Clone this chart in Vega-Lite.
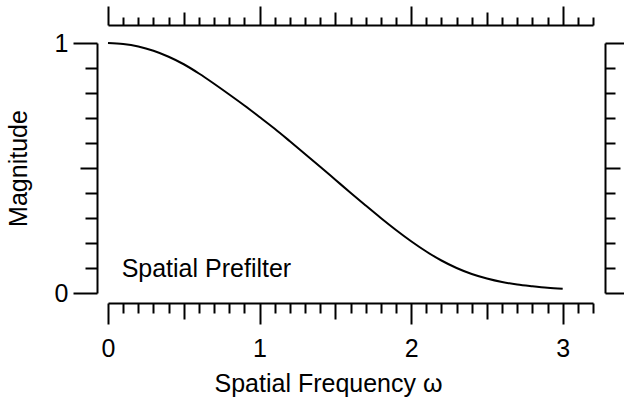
{
  "$schema": "https://vega.github.io/schema/vega-lite/v6.json",
  "width": 485,
  "height": 250,
  "autosize": "none",
  "padding": {"left": 108, "top": 43, "right": 31, "bottom": 115},
  "background": "white",
  "config": {"view": {"stroke": null}, "font": "Liberation Sans"},
  "layer": [
    {
      "data": {"values": [
        {"x": 0.0, "y": 1.0}, {"x": 0.1, "y": 0.996}, {"x": 0.2, "y": 0.986}, {"x": 0.3, "y": 0.969},
        {"x": 0.4, "y": 0.945}, {"x": 0.5, "y": 0.915}, {"x": 0.6, "y": 0.878}, {"x": 0.7, "y": 0.837},
        {"x": 0.8, "y": 0.794}, {"x": 0.9, "y": 0.75}, {"x": 1.0, "y": 0.704}, {"x": 1.1, "y": 0.657},
        {"x": 1.2, "y": 0.607}, {"x": 1.3, "y": 0.556}, {"x": 1.4, "y": 0.505}, {"x": 1.5, "y": 0.453},
        {"x": 1.6, "y": 0.401}, {"x": 1.7, "y": 0.35}, {"x": 1.8, "y": 0.3}, {"x": 1.9, "y": 0.252},
        {"x": 2.0, "y": 0.207}, {"x": 2.1, "y": 0.166}, {"x": 2.2, "y": 0.13}, {"x": 2.3, "y": 0.1},
        {"x": 2.4, "y": 0.076}, {"x": 2.5, "y": 0.058}, {"x": 2.6, "y": 0.044}, {"x": 2.7, "y": 0.034},
        {"x": 2.8, "y": 0.027}, {"x": 2.9, "y": 0.021}, {"x": 3.0, "y": 0.017}
      ]},
      "mark": {"type": "line", "color": "black", "strokeWidth": 2, "interpolate": "monotone"},
      "encoding": {
        "x": {
          "field": "x", "type": "quantitative",
          "scale": {"domain": [0, 3.2], "nice": false, "zero": false},
          "axis": {
            "orient": "bottom", "offset": 10, "grid": false,
            "values": [0,0.1,0.2,0.3,0.4,0.5,0.6,0.7,0.8,0.9,1,1.1,1.2,1.3,1.4,1.5,1.6,1.7,1.8,1.9,2,2.1,2.2,2.3,2.4,2.5,2.6,2.7,2.8,2.9,3,3.1,3.2],
            "domainColor": "black", "domainWidth": 2, "tickColor": "black", "tickWidth": 2,
            "tickSize": {"condition": [
              {"test": "abs(datum.value-round(datum.value))<0.001", "value": 21},
              {"test": "abs(datum.value*2-round(datum.value*2))<0.001", "value": 16}
            ], "value": 10},
            "labelExpr": "abs(datum.value-round(datum.value))<0.001 ? format(datum.value,'d') : ''",
            "labelFontSize": 25, "labelColor": "black", "labelPadding": 12, "labelOverlap": false, "labelFlush": false,
            "title": "Spatial Frequency ω", "titleFontSize": 25, "titleFontWeight": "normal", "titleColor": "black",
            "titleX": 220, "titleY": 88, "titleAlign": "center", "titleBaseline": "alphabetic"
          }
        },
        "y": {
          "field": "y", "type": "quantitative",
          "scale": {"domain": [0, 1], "nice": false, "zero": false},
          "axis": {
            "orient": "left", "offset": 11, "grid": false,
            "values": [0,0.1,0.2,0.3,0.4,0.5,0.6,0.7,0.8,0.9,1],
            "domainColor": "black", "domainWidth": 2, "tickColor": "black", "tickWidth": 2,
            "tickSize": {"condition": [
              {"test": "abs(datum.value-round(datum.value))<0.001", "value": 24},
              {"test": "abs(datum.value*2-round(datum.value*2))<0.001", "value": 17}
            ], "value": 12},
            "labelExpr": "abs(datum.value-round(datum.value))<0.001 ? format(datum.value,'d') : ''",
            "labelFontSize": 25, "labelColor": "black", "labelPadding": 5, "labelOverlap": false, "labelFlush": false,
            "title": "Magnitude", "titleFontSize": 25, "titleFontWeight": "normal", "titleColor": "black",
            "titleX": -79, "titleY": 125, "titleAngle": -90, "titleAlign": "center", "titleBaseline": "middle"
          }
        }
      }
    },
    {
      "data": {"values": [{"x": 0.09, "y": 0.064, "label": "Spatial Prefilter"}]},
      "mark": {"type": "text", "align": "left", "baseline": "alphabetic", "fontSize": 25, "color": "black", "font": "Liberation Sans"},
      "encoding": {
        "x": {
          "field": "x", "type": "quantitative",
          "scale": {"domain": [0, 3.2], "nice": false, "zero": false},
          "axis": {
            "orient": "top", "offset": 18, "grid": false, "labels": false, "title": null,
            "values": [0,0.1,0.2,0.3,0.4,0.5,0.6,0.7,0.8,0.9,1,1.1,1.2,1.3,1.4,1.5,1.6,1.7,1.8,1.9,2,2.1,2.2,2.3,2.4,2.5,2.6,2.7,2.8,2.9,3,3.1,3.2],
            "domainColor": "black", "domainWidth": 2, "tickColor": "black", "tickWidth": 2,
            "tickSize": {"condition": [
              {"test": "abs(datum.value-round(datum.value))<0.001", "value": 19},
              {"test": "abs(datum.value*2-round(datum.value*2))<0.001", "value": 13}
            ], "value": 8}
          }
        },
        "y": {
          "field": "y", "type": "quantitative",
          "scale": {"domain": [0, 1], "nice": false, "zero": false},
          "axis": {
            "orient": "right", "offset": 12, "grid": false, "labels": false, "title": null,
            "values": [0,0.1,0.2,0.3,0.4,0.5,0.6,0.7,0.8,0.9,1],
            "domainColor": "black", "domainWidth": 2, "tickColor": "black", "tickWidth": 2,
            "tickSize": {"condition": [
              {"test": "abs(datum.value-round(datum.value))<0.001", "value": 20},
              {"test": "abs(datum.value*2-round(datum.value*2))<0.001", "value": 15}
            ], "value": 10}
          }
        },
        "text": {"field": "label"}
      }
    }
  ],
  "resolve": {"axis": {"x": "independent", "y": "independent"}}
}
